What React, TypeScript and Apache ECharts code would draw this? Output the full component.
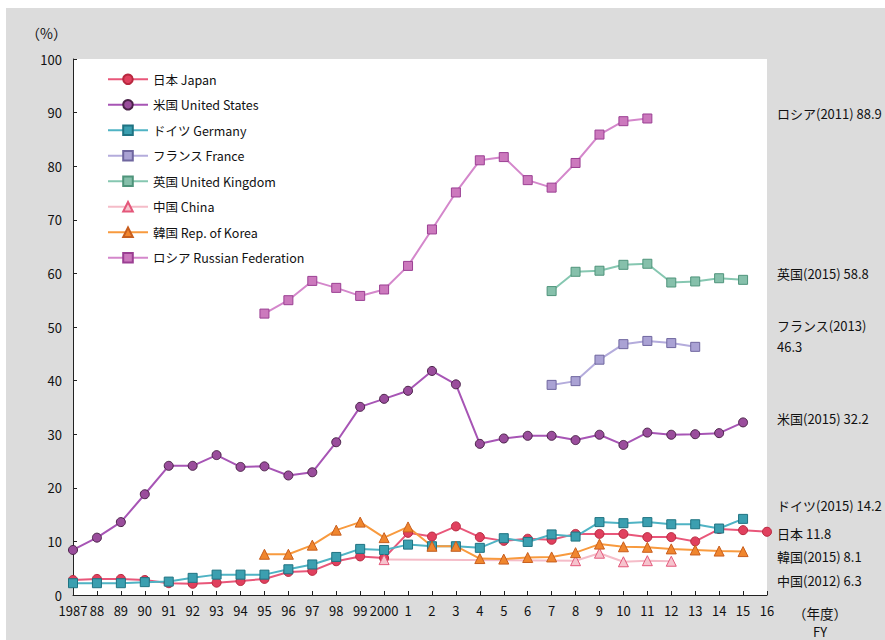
import React, { useEffect, useRef } from "react";
import * as echarts from "echarts";

const FONT = "'Noto Sans CJK JP', 'Noto Sans', sans-serif";

const years = [
  "1987", "88", "89", "90", "91", "92", "93", "94", "95", "96", "97", "98", "99", "2000",
  "1", "2", "3", "4", "5", "6", "7", "8", "9", "10", "11", "12", "13", "14", "15", "16",
];

const japan = [2.8, 3.0, 3.0, 2.8, 2.2, 2.1, 2.3, 2.6, 3.0, 4.3, 4.5, 6.3, 7.2, 6.9, 11.6, 10.9, 12.8, 10.8, 10.1, 10.5, 10.3, 11.4, 11.4, 11.4, 10.8, 10.8, 10.0, 12.3, 12.1, 11.8];
const usa = [8.4, 10.7, 13.6, 18.8, 24.1, 24.1, 26.1, 23.9, 24.0, 22.3, 22.9, 28.5, 35.1, 36.6, 38.1, 41.8, 39.3, 28.2, 29.2, 29.7, 29.7, 28.9, 29.9, 28.0, 30.3, 29.9, 30.0, 30.2, 32.2, null];
const germany = [2.2, 2.2, 2.2, 2.4, 2.5, 3.2, 3.8, 3.8, 3.8, 4.8, 5.7, 7.1, 8.6, 8.4, 9.4, 9.1, 9.1, 8.8, 10.6, 9.9, 11.3, 10.9, 13.6, 13.4, 13.6, 13.2, 13.2, 12.4, 14.2, null];
const france = [null, null, null, null, null, null, null, null, null, null, null, null, null, null, null, null, null, null, null, null, 39.2, 39.9, 43.9, 46.8, 47.4, 47.0, 46.3, null, null, null];
const uk = [null, null, null, null, null, null, null, null, null, null, null, null, null, null, null, null, null, null, null, null, 56.7, 60.3, 60.5, 61.6, 61.8, 58.3, 58.5, 59.1, 58.8, null];
const china = [null, null, null, null, null, null, null, null, null, null, null, null, null, 6.6, null, null, null, null, null, null, null, 6.4, 7.8, 6.2, 6.4, 6.3, null, null, null, null];
const korea = [null, null, null, null, null, null, null, null, 7.6, 7.6, 9.3, 12.1, 13.6, 10.7, 12.7, 9.1, 9.1, 6.8, 6.7, 7.0, 7.1, 7.9, 9.5, 9.0, 8.9, 8.6, 8.4, 8.2, 8.1, null];
const russia = [null, null, null, null, null, null, null, null, 52.5, 55.0, 58.6, 57.3, 55.8, 57.0, 61.4, 68.2, 75.1, 81.1, 81.7, 77.4, 76.0, 80.6, 85.9, 88.4, 88.9, null, null, null, null, null];

const seriesNames = [
  "日本 Japan",
  "米国 United States",
  "ドイツ Germany",
  "フランス France",
  "英国 United Kingdom",
  "中国 China",
  "韓国 Rep. of Korea",
  "ロシア Russian Federation",
];

const rightNotes = [
  { text: "ロシア(2011) 88.9", x: 771, y: 105 },
  { text: "英国(2015) 58.8", x: 771, y: 265 },
  { text: "フランス(2013)", x: 771, y: 317 },
  { text: "46.3", x: 771, y: 338 },
  { text: "米国(2015) 32.2", x: 771, y: 410 },
  { text: "ドイツ(2015) 14.2", x: 771, y: 497 },
  { text: "日本 11.8", x: 771, y: 525 },
  { text: "韓国(2015) 8.1", x: 771, y: 548 },
  { text: "中国(2012) 6.3", x: 771, y: 572 },
];

function mk(name: string, data: (number | null)[], symbol: string, size: number, line: string, fill: string, border: string, connect = false) {
  return {
    name,
    type: "line",
    data,
    symbol,
    symbolSize: size,
    connectNulls: connect,
    clip: false,
    lineStyle: { color: line, width: 2 },
    itemStyle: { color: fill, borderColor: border, borderWidth: 1 },
    emphasis: { disabled: true },
  };
}

export default function App() {
  const ref = useRef<HTMLDivElement>(null);
  useEffect(() => {
    if (!ref.current) return;
    const chart = echarts.init(ref.current, null, { renderer: "svg" });
    const axisText = { color: "#111", fontSize: 13, fontFamily: FONT };
    chart.setOption({
      animation: false,
      backgroundColor: "#dcdcdc",
      textStyle: { fontFamily: FONT },
      grid: { left: 67, top: 51, right: 118, bottom: 45, show: true, backgroundColor: "#fff", borderWidth: 0 },
      xAxis: {
        type: "category",
        data: years,
        boundaryGap: false,
        axisLine: { lineStyle: { color: "#222", width: 1 } },
        axisTick: { inside: true, length: 4, interval: 0, lineStyle: { color: "#222" } },
        axisLabel: { ...axisText, interval: 0, margin: 9 },
        splitLine: { show: false },
      },
      yAxis: {
        type: "value",
        min: 0,
        max: 100,
        interval: 10,
        axisLine: { show: true, lineStyle: { color: "#222", width: 1 } },
        axisTick: { show: true, inside: true, length: 4, lineStyle: { color: "#222" } },
        axisLabel: { ...axisText, margin: 11 },
        splitLine: { show: false },
      },
      legend: {
        orient: "vertical",
        left: 96,
        top: 60,
        itemWidth: 40,
        itemHeight: 12,
        itemGap: 13,
        data: seriesNames,
        textStyle: { fontSize: 12.5, color: "#111", fontFamily: FONT },
        selectedMode: false,
      },
      series: [
        mk(seriesNames[0], japan, "circle", 9, "#e9577a", "#e0405e", "#b8283f"),
        mk(seriesNames[1], usa, "circle", 9, "#a755b5", "#9a4d9c", "#4b2249"),
        mk(seriesNames[2], germany, "rect", 9, "#4fb3c4", "#3b9fb0", "#1f7382"),
        mk(seriesNames[3], france, "rect", 9, "#b4acdc", "#aaa2d4", "#6f669f"),
        mk(seriesNames[4], uk, "rect", 9, "#86c7b1", "#86c0ab", "#4f947b"),
        mk(seriesNames[5], china, "triangle", 10, "#f5bcc8", "#f6c3cd", "#e4577a", true),
        mk(seriesNames[6], korea, "triangle", 10, "#f89a3e", "#f0862e", "#c85e1e"),
        mk(seriesNames[7], russia, "rect", 9, "#d487cb", "#cc79bd", "#9b3f93"),
      ],
      graphic: [
        {
          type: "text",
          x: 20,
          y: 25,
          style: { text: "（%）", fontSize: 14, fill: "#111", fontFamily: FONT, verticalAlign: "middle" },
        },
        {
          type: "text",
          x: 787,
          y: 605,
          style: { text: "（年度）", fontSize: 13.5, fill: "#111", fontFamily: FONT, verticalAlign: "middle" },
        },
        {
          type: "text",
          x: 807,
          y: 623,
          style: { text: "FY", fontSize: 13, fill: "#111", fontFamily: FONT, verticalAlign: "middle" },
        },
        ...rightNotes.map((n) => ({
          type: "text",
          x: n.x,
          y: n.y,
          style: { text: n.text, fontSize: 13, fill: "#111", fontFamily: FONT, verticalAlign: "middle" },
        })),
      ],
    });
    return () => chart.dispose();
  }, []);
  return (
    <div style={{ position: "fixed", left: 0, top: 0, width: 885, height: 640, background: "#fff" }}>
      <div ref={ref} style={{ position: "absolute", left: 6, top: 8, width: 879, height: 632 }} />
    </div>
  );
}
